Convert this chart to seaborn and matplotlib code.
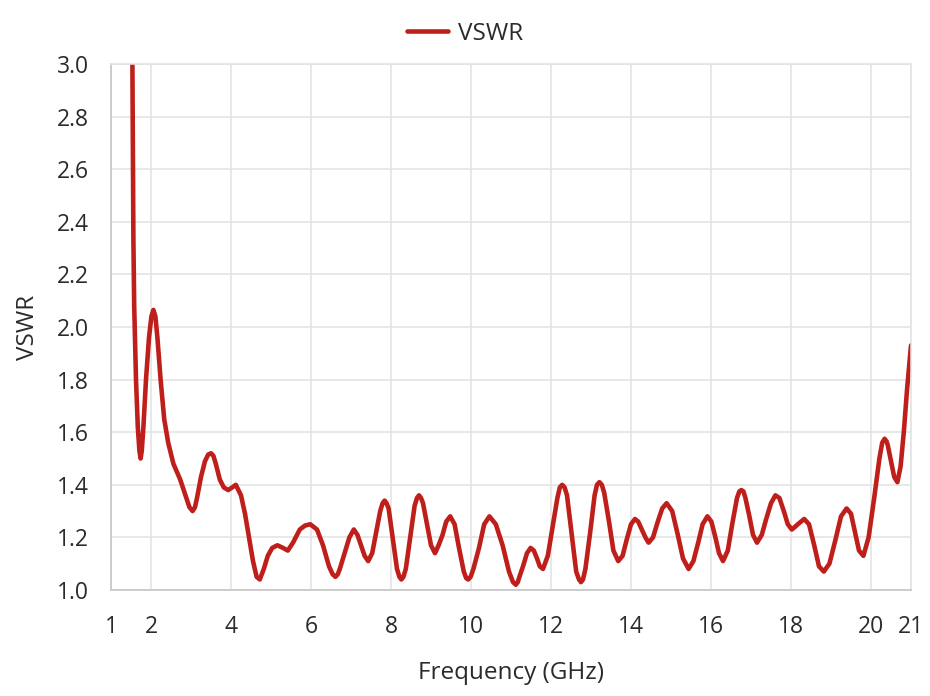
import pandas as pd
import matplotlib
matplotlib.use("Agg")
import matplotlib.pyplot as plt
import seaborn as sns

# readings (GHz, VSWR)
freq_ghz = [1.50, 1.535, 1.56, 1.58, 1.625, 1.67, 1.71, 1.74, 1.77, 1.81, 1.875, 1.95,
            2.01, 2.06, 2.11, 2.16, 2.24, 2.33, 2.43, 2.56, 2.73, 2.86, 2.96, 3.04, 3.10, 3.15,
            3.25, 3.35, 3.43, 3.50, 3.56, 3.62, 3.72, 3.82, 3.93, 4.03, 4.12, 4.25,
            4.35, 4.45, 4.55, 4.64, 4.72, 4.82, 4.92, 5.03, 5.16, 5.30,
            5.42, 5.55, 5.72, 5.85, 5.98, 6.15, 6.30, 6.45, 6.54, 6.61, 6.67, 6.72, 6.84,
            6.96, 7.07, 7.16, 7.25, 7.34, 7.43, 7.53, 7.63, 7.73, 7.79, 7.84,
            7.89, 7.94, 8.05, 8.15, 8.21, 8.26, 8.31, 8.37, 8.48, 8.59, 8.65, 8.70, 8.75, 8.80, 8.90,
            9.00, 9.10, 9.19, 9.29, 9.38, 9.48, 9.59, 9.70, 9.82, 9.88, 9.93,
            9.99, 10.06, 10.20, 10.33, 10.46, 10.62, 10.79, 10.95, 11.05, 11.12, 11.17, 11.21, 11.30,
            11.40, 11.49, 11.57, 11.65, 11.72, 11.80, 11.92, 12.04, 12.16, 12.22, 12.28,
            12.34, 12.40, 12.51, 12.63, 12.70, 12.75, 12.80, 12.86, 12.98, 13.09, 13.15, 13.21, 13.27, 13.33, 13.45,
            13.56, 13.68, 13.79, 13.89, 14.00, 14.10, 14.18, 14.27, 14.36, 14.44,
            14.55, 14.67, 14.78, 14.89, 15.03, 15.17, 15.30, 15.44, 15.56, 15.68,
            15.79, 15.91, 16.01, 16.11, 16.20, 16.30, 16.42, 16.53, 16.65, 16.71, 16.76,
            16.81, 16.86, 16.96, 17.05, 17.15, 17.27, 17.38, 17.50, 17.61, 17.71, 17.82,
            17.92, 18.02, 18.10, 18.17, 18.25, 18.33, 18.45, 18.58, 18.70, 18.82,
            18.96, 19.11, 19.25, 19.39, 19.50, 19.60, 19.70, 19.81, 19.94, 20.08,
            20.21, 20.28, 20.34, 20.39, 20.42, 20.50, 20.58, 20.66, 20.74, 20.82, 20.90, 21.00]
vswr = [3.30, 3.00, 2.33, 2.08, 1.80, 1.62, 1.53, 1.50, 1.53, 1.62, 1.80, 1.96,
        2.04, 2.065, 2.04, 1.96, 1.80, 1.65, 1.56, 1.48, 1.42, 1.36, 1.315, 1.30, 1.315, 1.35,
        1.43, 1.49, 1.515, 1.52, 1.51, 1.48, 1.42, 1.39, 1.38, 1.39, 1.40, 1.36,
        1.29, 1.20, 1.11, 1.05, 1.04, 1.08, 1.13, 1.16, 1.17, 1.16,
        1.15, 1.18, 1.23, 1.245, 1.25, 1.23, 1.17, 1.09, 1.06, 1.05, 1.06, 1.08, 1.14,
        1.20, 1.23, 1.21, 1.17, 1.13, 1.11, 1.14, 1.22, 1.30, 1.33, 1.34,
        1.33, 1.31, 1.19, 1.08, 1.05, 1.04, 1.05, 1.08, 1.20, 1.32, 1.35, 1.36, 1.35, 1.33, 1.25,
        1.17, 1.14, 1.17, 1.21, 1.26, 1.28, 1.25, 1.16, 1.07, 1.045, 1.04,
        1.05, 1.08, 1.16, 1.25, 1.28, 1.25, 1.17, 1.07, 1.03, 1.02, 1.03, 1.05, 1.09,
        1.14, 1.16, 1.15, 1.12, 1.09, 1.08, 1.13, 1.24, 1.35, 1.39, 1.40,
        1.39, 1.36, 1.22, 1.07, 1.04, 1.03, 1.04, 1.08, 1.22, 1.36, 1.40, 1.41, 1.40, 1.37, 1.26,
        1.15, 1.11, 1.13, 1.19, 1.25, 1.27, 1.26, 1.23, 1.20, 1.18,
        1.20, 1.26, 1.31, 1.33, 1.30, 1.21, 1.12, 1.08, 1.11, 1.18,
        1.25, 1.28, 1.26, 1.20, 1.14, 1.11, 1.15, 1.25, 1.35, 1.375, 1.38,
        1.375, 1.35, 1.28, 1.21, 1.18, 1.21, 1.27, 1.33, 1.36, 1.35, 1.30,
        1.25, 1.23, 1.24, 1.25, 1.26, 1.27, 1.25, 1.17, 1.09, 1.07,
        1.10, 1.19, 1.28, 1.31, 1.29, 1.22, 1.15, 1.13, 1.20, 1.35,
        1.50, 1.56, 1.575, 1.565, 1.55, 1.49, 1.43, 1.41, 1.47, 1.60, 1.76, 1.93]

x_ticks = [1, 2, 4, 6, 8, 10, 12, 14, 16, 18, 20, 21]
y_ticks = [1.0, 1.2, 1.4, 1.6, 1.8, 2.0, 2.2, 2.4, 2.6, 2.8, 3.0]

df = pd.DataFrame({"Frequency (GHz)": freq_ghz, "VSWR": vswr})

sns.set_style("white")
plt.rcParams['font.family'] = ['Open Sans', 'DejaVu Sans']

fig = plt.figure(figsize=(9.3, 6.96), dpi=100)
ax = fig.add_axes([111/930, 1 - 590/696, 800/930, 526/696])

sns.lineplot(data=df, x="Frequency (GHz)", y="VSWR", ax=ax, color="#bf1f1a",
             linewidth=3.3, label="VSWR", sort=False,
             solid_joinstyle="round", solid_capstyle="round")

ax.set_xlim(1, 21)
ax.set_ylim(1.0, 3.0)
ax.set_xticks(x_ticks)
ax.set_xticklabels([str(t) for t in x_ticks])
ax.set_yticks(y_ticks)
ax.set_yticklabels([f"{t:.1f}" for t in y_ticks])
ax.grid(True, color="#e2e2e2", linewidth=1.1)
ax.set_axisbelow(True)
for side in ["top", "right"]:
    ax.spines[side].set_color("#e2e2e2")
    ax.spines[side].set_linewidth(1.1)
for side in ["left", "bottom"]:
    ax.spines[side].set_color("#cccccc")
    ax.spines[side].set_linewidth(1.4)
ax.tick_params(axis="both", length=14, width=1.1, color="#e2e2e2",
               labelsize=16.5, labelcolor="#2b2b2b", pad=2)
ax.tick_params(axis="x", pad=4)
ax.set_xlabel("Frequency (GHz)", fontsize=17.5, color="#2b2b2b", labelpad=16)
ax.set_ylabel("VSWR", fontsize=17.5, color="#2b2b2b", labelpad=12)

ax.legend_.remove()
leg = fig.legend(loc="upper center", bbox_to_anchor=(0.50, 1.0), frameon=False,
                 fontsize=17.5, handlelength=1.7, handletextpad=0.4,
                 labelcolor="#2b2b2b")

fig.savefig("out.png", dpi=100)
